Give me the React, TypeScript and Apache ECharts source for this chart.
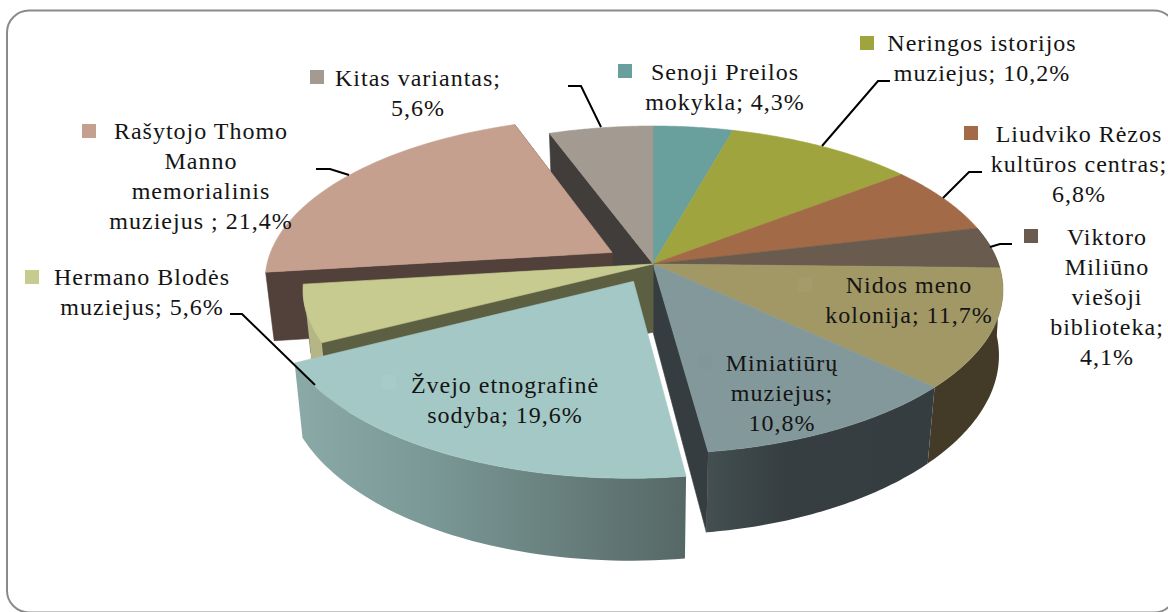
import React, { useEffect, useRef } from "react";
import * as echarts from "echarts";

// ---- data ----
const categories = [
  "Senoji Preilos mokykla",
  "Neringos istorijos muziejus",
  "Liudviko Rėzos kultūros centras",
  "Viktoro Miliūno viešoji biblioteka",
  "Nidos meno kolonija",
  "Miniatiūrų muziejus",
  "Žvejo etnografinė sodyba",
  "Hermano Blodės muziejus",
  "Rašytojo Thomo Manno memorialinis muziejus",
  "Kitas variantas",
];
const values = [4.3, 10.2, 6.8, 4.1, 11.7, 10.8, 19.6, 5.6, 21.4, 5.6];
const labelTexts = [
  "Senoji Preilos\nmokykla; 4,3%",
  "Neringos istorijos\nmuziejus; 10,2%",
  "Liudviko Rėzos\nkultūros centras;\n6,8%",
  "Viktoro\nMiliūno\nviešoji\nbiblioteka;\n4,1%",
  "Nidos meno\nkolonija; 11,7%",
  "Miniatiūrų\nmuziejus;\n10,8%",
  "Žvejo etnografinė\nsodyba; 19,6%",
  "Hermano Blodės\nmuziejus; 5,6%",
  "Rašytojo Thomo\nManno\nmemorialinis\nmuziejus ; 21,4%",
  "Kitas variantas;\n5,6%",
];

// ---- style & layout ----
const explode = [0, 0, 0, 0, 0, 0, 0.12, 0, 0.14, 0];
const topColors = ["#699f9c", "#9fa43f", "#a26a47", "#695c4e", "#a19866", "#82989b", "#a4c8c5", "#c8cb8f", "#c6a08e", "#a39a91"];
const wallColors = ["#3a5452", "#565a22", "#583a26", "#3a332b", "#433b28", "#353d40", "#5c7270", "#5c5f42", "#52403a", "#403d3a"];
const sideFrom = ["#3a5452", "#565a22", "#583a26", "#3a332b", "#433b28", "#434f50", "#8ba9a7", "#b5b585", "#52403a", "#403d3a"];
const sideMid = ["#3a5452", "#565a22", "#583a26", "#3a332b", "#433b28", "#363e41", "#7a9896", "#b5b585", "#52403a", "#403d3a"];
const sideTo = ["#3a5452", "#565a22", "#583a26", "#3a332b", "#433b28", "#353d40", "#566866", "#b5b585", "#52403a", "#403d3a"];
const keyColors = ["#699f9c", "#9fa43f", "#a26a47", "#695c4e", "#a39b6a", "#80969a", "#a7cbc8", "#c8cb8f", "#c6a08e", "#a39a91"];
const wallOrder = [0, 0, 0, 0, 0, 5, 9, 7, 2, 1];
const topOrder = [4, 4, 4, 4, 6, 6, 10, 8, 3, 4];
const showWall = [0, 0, 0, 0, 0, 1, 0, 1, 1, 1];
const showSide = [0, 0, 0, 1, 1, 1, 1, 1, 0, 0];
const labelCenters = [[725, 72], [982, 43], [1079, 134], [1107, 237], [909, 285], [782, 363], [505, 385], [142, 277], [201, 131], [418, 78]];
const keyBoxes = [[618, 64], [860, 36], [964, 126], [1024, 229], [798, 278], [698, 355], [382, 375], [25, 270], [82, 124], [310, 70]];
const leaders = [
  [[890, 81], [878, 81], [822, 146]],
  [[982, 172], [969, 172], [943, 198]],
  [[1012, 244], [1000, 244], [990, 247]],
  [[316, 169], [330, 169], [349, 175]],
  [[230, 314], [242, 314], [315, 385]],
  [[568, 86], [581, 86], [601, 127]],
];

const CX = 653, CY = 264, A = 159.8, B = 345.6, K = 0.158, DEPTH = 68;
const total = values.reduce((s, v) => s + v, 0);

function project(u: number, v: number, low: boolean): number[] {
  const w = 1 + K * v;
  const x = (B * u) / w;
  const y = (-A * v) / w;
  if (!low) return [CX + x, CY + y];
  const shrink = x < 0 ? 0.978 : 0.992 + 0.024 * Math.min(v, 0);
  return [CX + x * shrink, CY + y + DEPTH / w];
}

function renderItem(params: any, api: any) {
  const i = params.dataIndex;
  const before = values.slice(0, i).reduce((s, v) => s + v, 0);
  const a0 = (before / total) * Math.PI * 2;
  const a1 = ((before + api.value(0)) / total) * Math.PI * 2;
  const mid = (a0 + a1) / 2;
  const ox = explode[i] * Math.sin(mid);
  const oy = explode[i] * Math.cos(mid);
  const steps = 48;
  const rimAngles: number[] = [];
  for (let s = 0; s <= steps; s++) rimAngles.push(a0 + ((a1 - a0) * s) / steps);
  const rim = (low: boolean) => rimAngles.map((t) => project(Math.sin(t) + ox, Math.cos(t) + oy, low));
  const apexT = project(ox, oy, false);
  const apexB = project(ox, oy, true);
  const rimT = rim(false);
  const rimB = rim(true);
  const children: any[] = [];
  const poly = (pts: number[][], fill: any, stroke: any, z2: number) => ({
    type: "polygon",
    z2,
    silent: true,
    shape: { points: pts },
    style: { fill, stroke, lineWidth: 0.6 },
  });
  if (showWall[i]) {
    const wall = [apexT, rimT[0], rimB[0], apexB];
    const wallEnd = [apexT, rimT[steps], rimB[steps], apexB];
    children.push(poly(i === 5 ? wallEnd : wall, wallColors[i], wallColors[i], wallOrder[i] * 2));
    if (i !== 5) children.push(poly(wallEnd, wallColors[i], wallColors[i], wallOrder[i] * 2));
  }
  if (showSide[i]) {
    const fill = new echarts.graphic.LinearGradient(0, 0, 1, 0, [
      { offset: 0, color: sideFrom[i] },
      { offset: 0.35, color: sideMid[i] },
      { offset: 1, color: sideTo[i] },
    ]);
    children.push(poly(rimT.concat(rimB.slice().reverse()), fill, null, wallOrder[i] * 2 + (i === 5 ? 1 : 0)));
  }
  children.push(poly([apexT].concat(rimT), topColors[i], topColors[i], topOrder[i] * 2 + 1));
  return { type: "group", children };
}

export default function App() {
  const ref = useRef<HTMLDivElement>(null);
  useEffect(() => {
    document.body.style.margin = "0";
    document.body.style.overflow = "hidden";
    const chart = echarts.init(ref.current!, null, { renderer: "svg" });
    const graphics: any[] = [
      {
        type: "rect",
        z: 1,
        silent: true,
        shape: { x: 7, y: 10.5, width: 1169, height: 602, r: 22 },
        style: { fill: "#ffffff", stroke: "#8a8a8a", lineWidth: 2 },
      },
    ];
    labelTexts.forEach((t, i) => {
      graphics.push({
        type: "rect",
        z: 20,
        silent: true,
        shape: { x: keyBoxes[i][0], y: keyBoxes[i][1], width: 14, height: 14 },
        style: { fill: keyColors[i] },
      });
      graphics.push({
        type: "text",
        z: 22,
        silent: true,
        x: labelCenters[i][0],
        y: labelCenters[i][1] - 15,
        style: {
          text: t,
          fill: "#141414",
          font: '24px "Liberation Serif"',
          lineHeight: 30,
          align: "center",
          verticalAlign: "top",
        },
      });
    });
    leaders.forEach((pts) => {
      graphics.push({
        type: "polyline",
        z: 21,
        silent: true,
        shape: { points: pts },
        style: { fill: "none", stroke: "#000000", lineWidth: 2 },
      });
    });
    chart.setOption({
      animation: false,
      backgroundColor: "#ffffff",
      graphic: graphics,
      series: [
        {
          type: "custom",
          coordinateSystem: "none",
          z: 5,
          silent: true,
          renderItem,
          data: values.map((v, i) => ({ name: categories[i], value: [v] })),
        },
      ],
    });
    return () => chart.dispose();
  }, []);
  return (
    <>
      <style>{"svg text{letter-spacing:1px}"}</style>
      <div ref={ref} style={{ width: 1168, height: 612 }} />
    </>
  );
}
